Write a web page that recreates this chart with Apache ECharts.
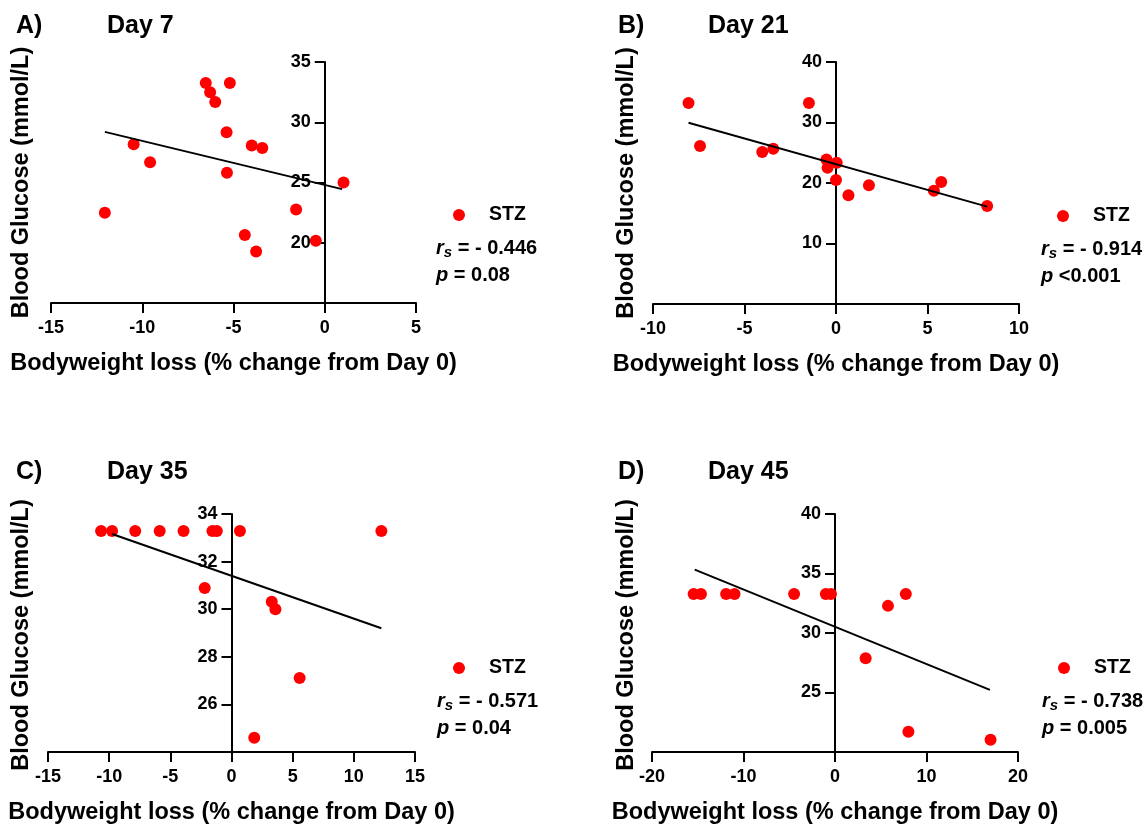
<!DOCTYPE html>
<html>
<head>
<meta charset="utf-8">
<title>Blood glucose vs bodyweight loss</title>
<script src="https://cdn.jsdelivr.net/npm/echarts@6/dist/echarts.min.js"></script>
<style>
html, body { margin: 0; padding: 0; background: #fff; }
#chart { width: 1148px; height: 826px; }
</style>
</head>
<body>
<div id="chart"></div>
<script>
// Day 7
var day7X = [-6.52, -5.2, -6.28, -6.0, -5.38, -10.47, -4.0, -3.42, -9.57, -5.36, 1.03, -12.05, -1.57, -4.38, -0.49, -3.76];
var day7Y = [33.26, 33.26, 32.49, 31.69, 29.17, 28.18, 28.07, 27.87, 26.69, 25.8, 25.0, 22.49, 22.76, 20.64, 20.17, 19.28];
var day7FitX = [-12.05, 0.95];
var day7FitY = [29.2, 24.45];
// Day 21
var day21X = [-8.06, -1.48, -7.43, -4.03, -3.43, -0.52, -0.46, 0.04, 0.0, 0.68, 1.8, 5.35, 5.75, 8.26];
var day21Y = [33.24, 33.24, 26.1, 25.11, 25.66, 23.9, 22.53, 23.35, 20.5, 17.97, 19.62, 18.7, 20.16, 16.21];
var day21FitX = [-8.06, 8.26];
var day21FitY = [29.95, 16.1];
// Day 35
var day35X = [-10.66, -9.76, -7.87, -5.87, -3.92, -1.56, -1.2, 0.69, 12.25, -2.19, 3.29, 3.59, 5.57, 1.86];
var day35Y = [33.29, 33.29, 33.29, 33.29, 33.29, 33.29, 33.29, 33.29, 33.29, 30.89, 30.31, 30.0, 27.11, 24.6];
var day35FitX = [-9.76, 12.25];
var day35FitY = [33.16, 29.2];
// Day 45
var day45X = [-15.45, -14.65, -11.9, -10.98, -4.47, -1.0, -0.44, 7.74, 5.79, 3.35, 8.02, 17.0];
var day45Y = [33.27, 33.27, 33.27, 33.27, 33.27, 33.27, 33.27, 33.27, 32.28, 27.88, 21.7, 21.02];
var day45FitX = [-15.33, 16.93];
var day45FitY = [35.33, 25.22];

// axis ranges: [min, max, interval]
var xRanges = [[-15, 5, 5], [-10, 10, 5], [-15, 15, 5], [-20, 20, 10]];
var yRanges = [[15, 35, 5], [0, 40, 10], [24, 34, 2], [20, 40, 5]];

var panelLetters = ['A)', 'B)', 'C)', 'D)'];
var panelDays = ['Day 7', 'Day 21', 'Day 35', 'Day 45'];
var rsValues = ['- 0.446', '- 0.914', '- 0.571', '- 0.738'];
var pValues = ['= 0.08', '<0.001', '= 0.04', '= 0.005'];

var xName = 'Bodyweight loss (% change from Day 0)';
var yName = 'Blood Glucose (mmol/L)';

var font = 'Liberation Sans, Arial, Helvetica, sans-serif';

var pts = [[day7X, day7Y], [day21X, day21Y], [day35X, day35Y], [day45X, day45Y]];
var fits = [[day7FitX, day7FitY], [day21FitX, day21FitY], [day35FitX, day35FitY], [day45FitX, day45FitY]];

// panel layout
var grids = [
    {left: 51, top: 62, width: 365, height: 241},
    {left: 653, top: 62, width: 366, height: 242},
    {left: 48, top: 514, width: 367, height: 242},
    {left: 652, top: 514, width: 366, height: 242}
];
var headX = [[16, 107], [618, 708], [16, 107], [618, 708]];
var headY = [26, 26, 472, 472];
var yNameX = [22, 627, 22, 627];
var legendX = [448, 1052, 448, 1053];
var statX = [436, 1041, 437, 1042];
var legendY = [214, 215, 667, 667];

function zip(a, b){
    var out = [];
    for(var i=0; i<a.length; i++) out.push([a[i], b[i]]);
    return out;
}

var chart = echarts.init(document.getElementById('chart'));

var xAxes = [], yAxes = [], series = [], legends = [], graphics = [];

for(var i=0; i<4; i++){
    var g = grids[i];
    // y axis crosses the x axis at 0
    var zeroShift = (0 - xRanges[i][0]) / (xRanges[i][1] - xRanges[i][0]) * g.width;
    xAxes.push({
        type: 'value',
        gridIndex: i,
        min: xRanges[i][0], max: xRanges[i][1], interval: xRanges[i][2],
        name: xName,
        nameLocation: 'middle',
        nameGap: 49,
        nameTextStyle: {fontFamily: font, fontWeight: 'bold', fontSize: 23.5, color: '#000'},
        axisLine: {onZero: false, lineStyle: {color: '#000', width: 2}},
        axisTick: {length: 10, lineStyle: {color: '#000', width: 2}},
        axisLabel: {margin: 16, fontFamily: font, fontWeight: 'bold', fontSize: 18, color: '#000'},
        splitLine: {show: false}
    });
    yAxes.push({
        type: 'value',
        gridIndex: i,
        min: yRanges[i][0], max: yRanges[i][1], interval: yRanges[i][2],
        position: 'left',
        offset: -zeroShift,
        axisLine: {onZero: false, lineStyle: {color: '#000', width: 2}},
        axisTick: {length: 10, lineStyle: {color: '#000', width: 2}},
        axisLabel: {margin: 14, showMinLabel: false, fontFamily: font, fontWeight: 'bold', fontSize: 18, color: '#000'},
        splitLine: {show: false}
    });
    series.push({
        type: 'line',
        xAxisIndex: i, yAxisIndex: i,
        data: zip(fits[i][0], fits[i][1]),
        symbol: 'none',
        lineStyle: {color: '#000', width: 2},
        silent: true
    });
    series.push({
        name: 'STZ',
        type: 'scatter',
        xAxisIndex: i, yAxisIndex: i,
        data: zip(pts[i][0], pts[i][1]),
        symbolSize: 12,
        itemStyle: {color: '#ff0000', opacity: 1}
    });
    legends.push({
        data: ['STZ'],
        left: legendX[i],
        top: legendY[i] - 14,
        itemWidth: 50,
        itemHeight: 12,
        selectedMode: false,
        textStyle: {fontFamily: font, fontWeight: 'bold', fontSize: 19.5, color: '#000'}
    });

    // panel letter and day
    graphics.push({
        type: 'text', x: headX[i][0], y: headY[i],
        style: {text: panelLetters[i], fontFamily: font, fontWeight: 'bold', fontSize: 25, fill: '#000', verticalAlign: 'middle'}
    });
    graphics.push({
        type: 'text', x: headX[i][1], y: headY[i],
        style: {text: panelDays[i], fontFamily: font, fontWeight: 'bold', fontSize: 25, fill: '#000', verticalAlign: 'middle'}
    });
    // y axis title
    graphics.push({
        type: 'text', x: yNameX[i], y: g.top + g.height / 2,
        rotation: Math.PI / 2,
        style: {text: yName, fontFamily: font, fontWeight: 'bold', fontSize: 23.5, fill: '#000', align: 'center', verticalAlign: 'middle'}
    });
    // statistics
    var rich = {
        i: {fontFamily: font, fontWeight: 'bold', fontStyle: 'italic', fontSize: 20, fill: '#000'},
        s: {fontFamily: font, fontWeight: 'bold', fontStyle: 'italic', fontSize: 15, fill: '#000', padding: [10, 0, 0, 0]},
        n: {fontFamily: font, fontWeight: 'bold', fontSize: 20, fill: '#000'}
    };
    graphics.push({
        type: 'text', x: statX[i], y: legendY[i] + 34,
        style: {text: '{i|r}{s|s}{n| = ' + rsValues[i] + '}', rich: rich, verticalAlign: 'middle'}
    });
    graphics.push({
        type: 'text', x: statX[i], y: legendY[i] + 61,
        style: {text: '{i|p}{n| ' + pValues[i] + '}', rich: rich, verticalAlign: 'middle'}
    });
}

chart.setOption({
    animation: false,
    backgroundColor: '#fff',
    grid: grids,
    xAxis: xAxes,
    yAxis: yAxes,
    legend: legends,
    series: series,
    graphic: graphics
});
</script>
</body>
</html>
